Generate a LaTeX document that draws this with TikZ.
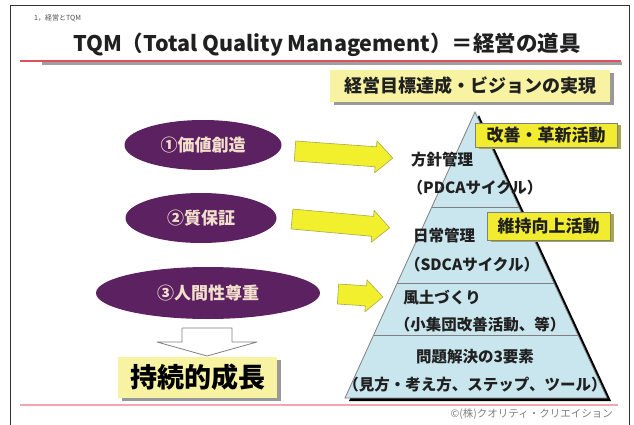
\documentclass[tikz,border=0pt]{standalone}
\usepackage{fontspec}
\setmainfont{Noto Sans CJK JP}
\usetikzlibrary{shapes.geometric,calc,shadows}
\definecolor{purp}{HTML}{5B2161}
\definecolor{ellt}{HTML}{F2DFCB}
\definecolor{yarrc}{HTML}{F2F02C}
\definecolor{yarrd}{HTML}{A8A850}
\definecolor{pale}{HTML}{F7F3A3}
\definecolor{brite}{HTML}{F2EC30}
\definecolor{pyr}{HTML}{C9E6EE}
\definecolor{redl}{HTML}{E0505E}
\definecolor{pinkl}{HTML}{F2A6B0}
\definecolor{txt}{HTML}{202020}
\tikzset{
  ell/.style={ellipse, fill=purp, text=ellt, inner sep=0pt,
    font=\bfseries\fontsize{17}{17}\selectfont},
  yarr/.style={fill=yarrc, draw=yarrd, line width=0.6pt, line join=round},
  palebox/.style={rectangle, fill=pale, inner sep=0pt, text=txt,
    drop shadow={shadow xshift=4pt, shadow yshift=-3pt, fill=gray!80, opacity=1}},
  britebox/.style={rectangle, fill=brite, draw=black!50, line width=0.4pt, inner sep=0pt, text=txt,
    font=\bfseries\fontsize{17}{17}\selectfont,
    drop shadow={shadow xshift=4pt, shadow yshift=-2pt, fill=yarrd, opacity=1}},
  ptext/.style={text=txt, inner sep=0pt, font=\bfseries\fontsize{15.5}{15.5}\selectfont},
}
\newcommand\blockarr[4]{%
  \begin{scope}[shift={(#1,#2)},rotate=#4]
    \filldraw[yarr] (0,-10) -- ({#3-17},-10) -- ({#3-17},-16) -- (#3,0)
      -- ({#3-17},16) -- ({#3-17},10) -- (0,10) -- cycle;
  \end{scope}}
\begin{document}
\begin{tikzpicture}[x=1pt,y=-1pt]
\useasboundingbox (0,0) rectangle (634,425);
\fill[white] (0,0) rectangle (634,425);
% frame
\draw[line width=1pt, black!80] (10,425) -- (10,6) -- (629,6) -- (629,425);
% header and title
\node[anchor=west, inner sep=0pt, text=black!70, font=\fontsize{7}{7}\selectfont] (hdr) at (34,18) {1，経営とTQM};
\node[inner sep=0pt, text=txt, font=\bfseries\fontsize{21.5}{21.5}\selectfont] (title) at (327,45) {TQM（Total Quality Management）＝経営の道具};
\draw[line width=3pt, gray!75] (42,64) -- (622,64);
\draw[line width=2pt, redl] (20,61) -- (621,61);
% goal box
\node[palebox, minimum width=280pt, minimum height=32pt, font=\bfseries\fontsize{18}{18}\selectfont] (goal) at (470,86) {経営目標達成・ビジョンの実現};
% pyramid
\coordinate (apex) at (475,112);
\coordinate (bl) at (345,398);
\coordinate (br) at (607,398);
\fill[black, shift={(4,3)}] (475,112) -- (607,398) -- (345,398) -- cycle;
\filldraw[fill=pyr, draw=gray, line width=0.8pt] (apex) -- (br) -- (bl) -- cycle;
\draw[gray, line width=0.8pt] ($(apex)!0.3322!(bl)$) -- ($(apex)!0.3322!(br)$);
\draw[gray, line width=0.8pt] ($(apex)!0.598!(bl)$) -- ($(apex)!0.598!(br)$);
\draw[gray, line width=0.8pt] ($(apex)!0.7797!(bl)$) -- ($(apex)!0.7797!(br)$);
\node[ptext] (p1) at (442,160) {方針管理};
\node[ptext] (p2) at (475,188) {（PDCAサイクル）};
\node[ptext] (p3) at (444,236) {日常管理};
\node[ptext] (p4) at (472,265) {（SDCAサイクル）};
\node[ptext] (p5) at (442,298) {風土づくり};
\node[ptext] (p6) at (480,325) {（小集団改善活動、等）};
\node[ptext] (p7) at (475,357) {問題解決の3要素};
\node[ptext] (p8) at (475,385) {（見方・考え方、ステップ、ツール）};
% labels
\node[britebox, minimum width=142pt, minimum height=24pt] (kaizen) at (546,135) {改善・革新活動};
\node[britebox, minimum width=123pt, minimum height=28pt] (iji) at (548.5,226) {維持向上活動};
% ellipses
\node[ell, minimum width=157pt, minimum height=50pt] (e1) at (203,145) {①価値創造};
\node[ell, minimum width=151pt, minimum height=50pt] (e2) at (201,218) {②質保証};
\node[ell, minimum width=224pt, minimum height=52pt] (e3) at (208,293) {③人間性尊重};
% yellow arrows
\blockarr{295}{151}{98}{-4.1}
\blockarr{292}{219}{98}{-5.2}
\blockarr{338}{294}{45}{-3.8}
% down arrow
\filldraw[fill=white, draw=gray, line width=0.8pt, line join=round]
  (182,328) -- (232,328) -- (232,342) -- (257,342) -- (207,356) -- (157,342) -- (182,342) -- cycle;
% growth box
\node[palebox, minimum width=159pt, minimum height=41pt, text=black, font=\bfseries\fontsize{27}{27}\selectfont] (growth) at (197.5,377.5) {持続的成長};
% bottom line and copyright
\draw[line width=1.5pt, pinkl] (20,405) -- (618,405);
\node[anchor=east, inner sep=0pt, text=gray, font=\fontsize{10.5}{10.5}\selectfont] (copy) at (613,414) {©(株)クオリティ・クリエイション};
\end{tikzpicture}
\end{document}
